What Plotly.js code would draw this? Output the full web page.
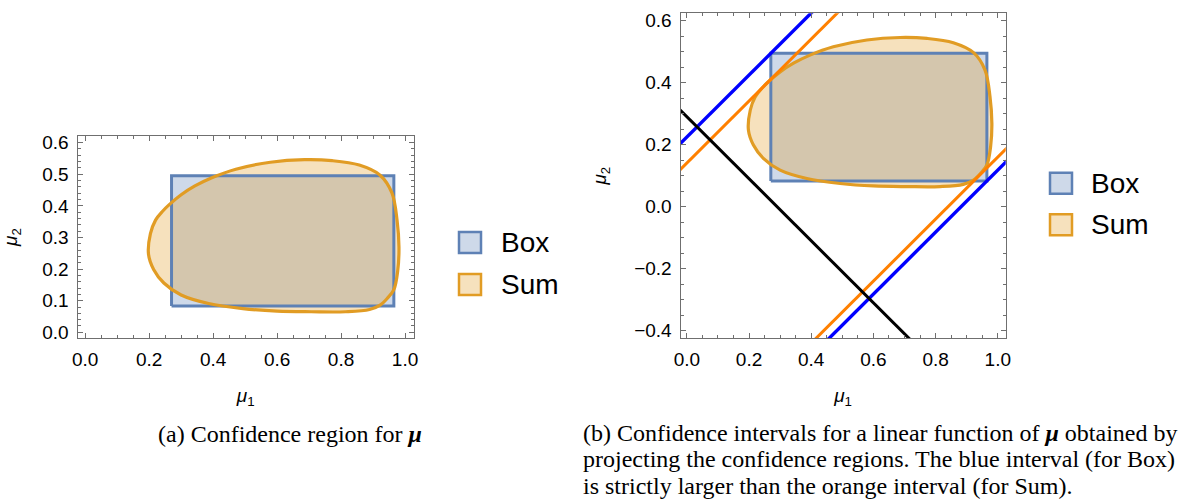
<!DOCTYPE html>
<html>
<head>
<meta charset="utf-8">
<script src="https://cdn.plot.ly/plotly-3.0.1.min.js"></script>
<style>body{margin:0;background:#fff;}</style>
</head>
<body>
<div id="chart" style="width:1186px;height:502px;"></div>
<script>
// ---------------- data ----------------
// Sum confidence region boundary (mu1, mu2)
const sumMu1 = [0.198,0.204,0.220,0.242,0.262,0.300,0.343,0.396,0.471,0.579,0.686,0.772,0.857,0.922,0.959,0.975,0.981,0.977,0.965,0.945,0.922,0.889,0.814,0.707,0.600,0.493,0.386,0.300,0.246,0.214];
const sumMu2 = [0.247,0.312,0.355,0.383,0.403,0.435,0.463,0.489,0.516,0.538,0.546,0.543,0.529,0.497,0.441,0.355,0.269,0.194,0.135,0.108,0.086,0.072,0.065,0.065,0.067,0.075,0.091,0.118,0.156,0.199];
// Box confidence region: [mu1 min, mu1 max] x [mu2 min, mu2 max]
const boxMu1 = [0.27, 0.965];
const boxMu2 = [0.083, 0.495];
// projection lines mu2 = mu1 + c (slope +1)
const blueIntercepts = [0.225, -0.882];
const orangeIntercepts = [0.141, -0.84];
// linear function direction line mu2 = -mu1 + c
const blackIntercept = 0.29;
// labels
const seriesNames = ['Box', 'Sum'];
const captionA = '(a) Confidence region for <b><i>μ</i></b>';
const captionB = [
  '(b) Confidence intervals for a linear function of <b><i>μ</i></b> obtained by',
  'projecting the confidence regions. The blue interval (for Box)',
  'is strictly larger than the orange interval (for Sum).'
];

// ---------------- styling ----------------
const W = 1186, H = 502;
const BOX_EDGE = 'rgb(94,129,181)', BOX_FILL = 'rgba(94,129,181,0.3)';
const SUM_EDGE = 'rgb(225,156,36)', SUM_FILL = 'rgba(225,156,36,0.3)';
const FRAME = '#6f6f6f';
const SANS = 'Liberation Sans, Arial, sans-serif';
const SERIF = 'Liberation Serif, Times New Roman, serif';
const fx = p => p / W;
const fy = p => 1 - p / H;

const boxX = [boxMu1[0], boxMu1[1], boxMu1[1], boxMu1[0], boxMu1[0]];
const boxY = [boxMu2[0], boxMu2[0], boxMu2[1], boxMu2[1], boxMu2[0]];
const sumX = sumMu1.concat([sumMu1[0]]);
const sumY = sumMu2.concat([sumMu2[0]]);

function region(xs, ys, xa, ya, name, fillOnly, color, fill, w, shape) {
  const t = {x: xs, y: ys, xaxis: xa, yaxis: ya, mode: 'lines', name: name,
    showlegend: false, hoverinfo: 'skip',
    line: {color: fillOnly ? 'rgba(0,0,0,0)' : color, width: fillOnly ? 0 : w, shape: shape, smoothing: 1}};
  if (fillOnly) { t.fill = 'toself'; t.fillcolor = fill; }
  return t;
}
function regions(xa, ya) {
  return [
    region(boxX, boxY, xa, ya, seriesNames[0], true, BOX_EDGE, BOX_FILL, 0, 'linear'),
    region(sumX, sumY, xa, ya, seriesNames[1], true, SUM_EDGE, SUM_FILL, 0, 'spline'),
    region(boxX, boxY, xa, ya, seriesNames[0], false, BOX_EDGE, BOX_FILL, 3, 'linear'),
    region(sumX, sumY, xa, ya, seriesNames[1], false, SUM_EDGE, SUM_FILL, 3.2, 'spline')
  ];
}
const ext = [-0.2, 1.2];
function slopeLine(c, s, color, w) {
  return {x: ext, y: ext.map(v => s * v + c), xaxis: 'x2', yaxis: 'y2', mode: 'lines',
    line: {color: color, width: w}, showlegend: false, hoverinfo: 'skip'};
}

const traces = [
  ...regions('x', 'y'),
  ...regions('x2', 'y2'),
  ...blueIntercepts.map(c => slopeLine(c, 1, '#0000ff', 3.4)),
  ...orangeIntercepts.map(c => slopeLine(c, 1, '#ff8000', 3)),
  slopeLine(blackIntercept, -1, '#000000', 3)
];

function axis(extra) {
  return Object.assign({
    showgrid: false, zeroline: false, showline: true, linecolor: FRAME, linewidth: 1,
    mirror: 'ticks', ticks: 'inside', ticklen: 5, tickwidth: 1, tickcolor: FRAME,
    tickfont: {family: SANS, size: 19, color: '#000'}, tickformat: '.1f', fixedrange: true,
    ticklabelstandoff: 4
  }, extra);
}
const minor = d => ({dtick: d, ticks: 'inside', ticklen: 3, tickwidth: 1, tickcolor: FRAME, showgrid: false});
const titleX = {text: '<i>μ</i><sub>1</sub>', font: {family: SANS, size: 19, color: '#000'}, standoff: 19};
const titleY = {text: '<i>μ</i><sub>2</sub>', font: {family: SANS, size: 19, color: '#000'}, standoff: 22};

const layout = {
  width: W, height: H, margin: {l: 0, r: 0, t: 0, b: 0},
  paper_bgcolor: '#fff', plot_bgcolor: '#fff', showlegend: false,
  xaxis: axis({domain: [fx(77.5), fx(414)], range: [-0.024, 1.028], dtick: 0.2, tick0: 0, minor: minor(0.05), anchor: 'y', title: titleX}),
  yaxis: axis({domain: [fy(338), fy(136)], range: [-0.018, 0.621], dtick: 0.1, tick0: 0, minor: minor(0.02), anchor: 'x', title: titleY}),
  xaxis2: axis({domain: [fx(680.5), fx(1005.7)], range: [-0.0205, 1.0255], dtick: 0.2, tick0: 0, minor: minor(0.05), anchor: 'y2', title: titleX}),
  yaxis2: axis({domain: [fy(338), fy(13.3)], range: [-0.4235, 0.624], dtick: 0.2, tick0: 0, minor: minor(0.05), anchor: 'x2', title: titleY}),
  shapes: [], annotations: []
};

// manual legends (square swatches)
const legends = [
  {x: 459, text: 499, rows: [242.5, 284.5]},
  {x: 1050, text: 1089, rows: [183.3, 224.7]}
];
const swFill = [BOX_FILL, SUM_FILL], swEdge = [BOX_EDGE, SUM_EDGE];
legends.forEach(lg => {
  lg.rows.forEach((cy, i) => {
    layout.shapes.push({type: 'rect', xref: 'paper', yref: 'paper',
      x0: fx(lg.x), x1: fx(lg.x + 22), y0: fy(cy + 10.5), y1: fy(cy - 10.5),
      fillcolor: swFill[i], line: {color: swEdge[i], width: 2.5}});
    layout.annotations.push({xref: 'paper', yref: 'paper', x: fx(lg.text), y: fy(cy),
      xanchor: 'left', yanchor: 'middle', showarrow: false, text: seriesNames[i],
      font: {family: SANS, size: 28, color: '#000'}});
  });
});

// captions
layout.annotations.push({xref: 'paper', yref: 'paper', x: fx(156), y: fy(433.5), xanchor: 'left', yanchor: 'middle',
  showarrow: false, text: captionA, font: {family: SERIF, size: 24, color: '#000'}});
captionB.forEach((t, i) => {
  layout.annotations.push({xref: 'paper', yref: 'paper', x: fx(581), y: fy(432.5 + i * 26.7), xanchor: 'left', yanchor: 'middle',
    showarrow: false, text: t, font: {family: SERIF, size: 24, color: '#000'}});
});

Plotly.newPlot('chart', traces, layout, {displayModeBar: false, staticPlot: true});
</script>
</body>
</html>
